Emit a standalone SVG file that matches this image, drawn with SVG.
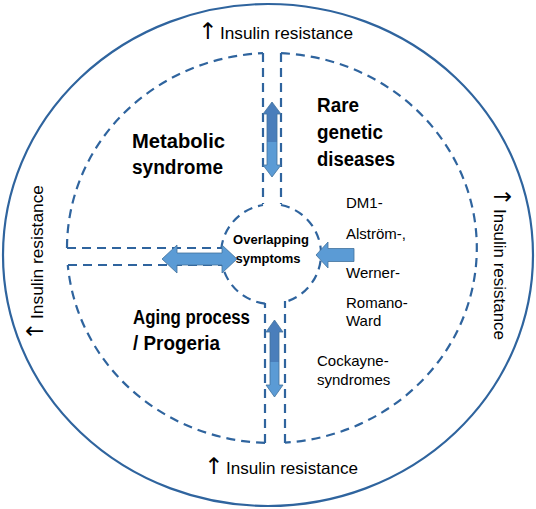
<svg xmlns="http://www.w3.org/2000/svg" width="536" height="509" viewBox="0 0 536 509">
<defs>
<style>
.outer{fill:none;stroke:#2F649E;stroke-width:2.2}
.dash{fill:none;stroke:#2F649E;stroke-width:2.2;stroke-dasharray:9 6}
.arrow{stroke:#41719C;stroke-width:0.8}
.lbl{font-family:"Liberation Sans",Arial,sans-serif;font-weight:bold;font-size:19.5px;fill:#000}
.small{font-family:"Liberation Sans",Arial,sans-serif;font-weight:bold;font-size:13px;fill:#000}
.list{font-family:"Liberation Sans",Arial,sans-serif;font-size:15px;fill:#000}
.ir{font-family:"Liberation Sans","DejaVu Sans",sans-serif;font-size:16.5px;fill:#000}
.up{font-family:"DejaVu Sans",sans-serif;font-size:23px}
</style>
<linearGradient id="gTop" x1="0" y1="102" x2="0" y2="177" gradientUnits="userSpaceOnUse">
<stop offset="0" stop-color="#4A7EBB"/><stop offset="0.53" stop-color="#4A7EBB"/><stop offset="0.53" stop-color="#5B9BD5"/><stop offset="1" stop-color="#5B9BD5"/>
</linearGradient>
<linearGradient id="gBot" x1="0" y1="320" x2="0" y2="397" gradientUnits="userSpaceOnUse">
<stop offset="0" stop-color="#4A7EBB"/><stop offset="0.55" stop-color="#4A7EBB"/><stop offset="0.55" stop-color="#5B9BD5"/><stop offset="1" stop-color="#5B9BD5"/>
</linearGradient>
</defs>

<g id="outer-circle">
<ellipse class="outer" cx="268" cy="255" rx="265" ry="251"/>
</g>

<g id="connectors">
<path class="dash" d="M281,53.2 A205,195 0 0 1 285,442.6"/>
<path class="dash" d="M265,442.9 A205,195 0 0 1 67.8,265"/>
<path class="dash" d="M67,248 A205,195 0 0 1 263,53.2"/>
<path class="dash" d="M263,53 V204"/>
<path class="dash" d="M281,53 V204"/>
<path class="dash" d="M67,248 H221"/>
<path class="dash" d="M68,265 H222.5"/>
<path class="dash" d="M265,443 V303"/>
<path class="dash" d="M285,443 V301"/>
</g>

<g id="overlap-circle">
<path class="dash" d="M281,205 A50,50 0 0 1 285,302"/>
<path class="dash" d="M265,303.6 A50,50 0 0 1 222.5,266"/>
<path class="dash" d="M221.2,249 A50,50 0 0 1 263,205"/>
<text class="small" x="271" y="244" text-anchor="middle">Overlapping</text>
<text class="small" x="268" y="263" text-anchor="middle">symptoms</text>
</g>

<g id="arrows">
<path class="arrow" fill="url(#gTop)" d="M272,102 L281,114 L277,114 L277,165 L281,165 L272,177 L263,165 L267,165 L267,114 L263,114 Z"/>
<path class="arrow" fill="url(#gBot)" d="M274.5,320 L283,332 L279,332 L279,385 L283,385 L274.5,397 L266,385 L270,385 L270,332 L266,332 Z"/>
<path class="arrow" fill="#5B9BD5" d="M162,259 L177,245 L177,253 L222,253 L222,245 L237,259 L222,273 L222,265 L177,265 L177,273 Z"/>
<path class="arrow" fill="#5B9BD5" d="M316,255 L328,242 L328,248.5 L354,248.5 L354,261.5 L328,261.5 L328,268 Z"/>
</g>

<g id="metabolic">
<text class="lbl" x="132" y="148" textLength="93" lengthAdjust="spacingAndGlyphs">Metabolic</text>
<text class="lbl" x="132" y="174" textLength="91" lengthAdjust="spacingAndGlyphs">syndrome</text>
</g>

<g id="rare">
<text class="lbl" x="317" y="112" textLength="42" lengthAdjust="spacingAndGlyphs">Rare</text>
<text class="lbl" x="317" y="139" textLength="66" lengthAdjust="spacingAndGlyphs">genetic</text>
<text class="lbl" x="317" y="166" textLength="78" lengthAdjust="spacingAndGlyphs">diseases</text>
<text class="list" x="346" y="208">DM1-</text>
<text class="list" x="346" y="239">Alström-,</text>
<text class="list" x="346" y="278">Werner-</text>
<text class="list" x="346" y="308">Romano-</text>
<text class="list" x="346" y="326">Ward</text>
<text class="list" x="317" y="366">Cockayne-</text>
<text class="list" x="317" y="385">syndromes</text>
</g>

<g id="aging">
<text class="lbl" x="133" y="324" textLength="117" lengthAdjust="spacingAndGlyphs">Aging process</text>
<text class="lbl" x="133" y="350" textLength="87" lengthAdjust="spacingAndGlyphs">/ Progeria</text>
</g>

<g id="insulin-labels">
<text class="ir" x="198" y="39"><tspan class="up">↑</tspan> <tspan x="220" textLength="133" lengthAdjust="spacingAndGlyphs">Insulin resistance</tspan></text>
<text class="ir" x="204" y="474"><tspan class="up">↑</tspan> <tspan x="226" textLength="132" lengthAdjust="spacingAndGlyphs">Insulin resistance</tspan></text>
<text class="ir" transform="translate(43,341) rotate(-90)"><tspan class="up">↑</tspan> <tspan x="22" textLength="134" lengthAdjust="spacingAndGlyphs">Insulin resistance</tspan></text>
<text class="ir" transform="translate(494,187) rotate(90)"><tspan class="up">↑</tspan> <tspan x="22" textLength="131" lengthAdjust="spacingAndGlyphs">Insulin resistance</tspan></text>
</g>
</svg>
